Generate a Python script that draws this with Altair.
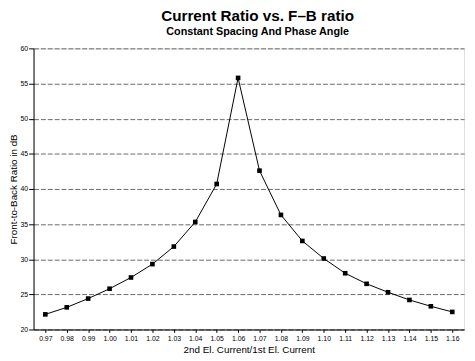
import altair as alt
import pandas as pd

ratios = ["0.97", "0.98", "0.99", "1.00", "1.01", "1.02", "1.03", "1.04", "1.05", "1.06",
          "1.07", "1.08", "1.09", "1.10", "1.11", "1.12", "1.13", "1.14", "1.15", "1.16"]
fb_db = [22.15, 23.15, 24.4, 25.8, 27.4, 29.3, 31.8, 35.3, 40.7, 55.8,
         42.6, 36.3, 32.6, 30.1, 28.0, 26.5, 25.3, 24.2, 23.3, 22.5]

df = pd.DataFrame({"ratio": ratios, "fb": fb_db})

FONT = "Liberation Sans"

x = alt.X("ratio:O", sort=ratios,
          scale=alt.Scale(type="point", padding=0.55),
          axis=alt.Axis(title="2nd El. Current/1st El. Current", labelAngle=0,
                        labelFontSize=7, labelFont=FONT, labelColor="black",
                        titleFontSize=10, titleFont=FONT, titleFontWeight="normal",
                        titleColor="black", titlePadding=3,
                        tickSize=3, tickColor="black", domainColor="black",
                        labelPadding=2, grid=False))
y = alt.Y("fb:Q",
          scale=alt.Scale(domain=[20, 60], nice=False, zero=False),
          axis=alt.Axis(title="Front-to-Back Ratio in dB", values=[20, 25, 30, 35, 40, 45, 50, 55, 60],
                        labelFontSize=7, labelFont=FONT, labelColor="black",
                        titleFontSize=10, titleFont=FONT, titleFontWeight="normal",
                        titleColor="black", titlePadding=2,
                        tickSize=5, tickColor="black", domainColor="black",
                        labelPadding=1, grid=True, gridColor="#444",
                        gridDash=[5, 2], gridWidth=0.8))

line = alt.Chart(df).mark_line(color="black", strokeWidth=1).encode(x=x, y=y)
pts = alt.Chart(df).mark_point(shape="square", filled=True, color="black",
                               size=22, opacity=1).encode(x=x, y=y)

chart = alt.layer(line, pts).properties(
    width=438, height=286,
    title=alt.TitleParams(
        text="Current Ratio vs. F\u2013B ratio",
        subtitle="Constant Spacing And Phase Angle",
        anchor="middle", frame="group", dx=9, offset=8,
        font=FONT, fontSize=15.5, fontWeight="bold", color="black",
        subtitleFont=FONT, subtitleFontSize=11, subtitleFontWeight="bold",
        subtitleColor="black", subtitlePadding=1),
    autosize=alt.AutoSizeParams(type="none"),
    padding={"left": 26, "top": 38, "right": 3, "bottom": 30},
).configure_view(stroke="black", strokeWidth=1).configure(background="white")

chart.save("out.html", embed_options={"renderer": "svg", "actions": False})
